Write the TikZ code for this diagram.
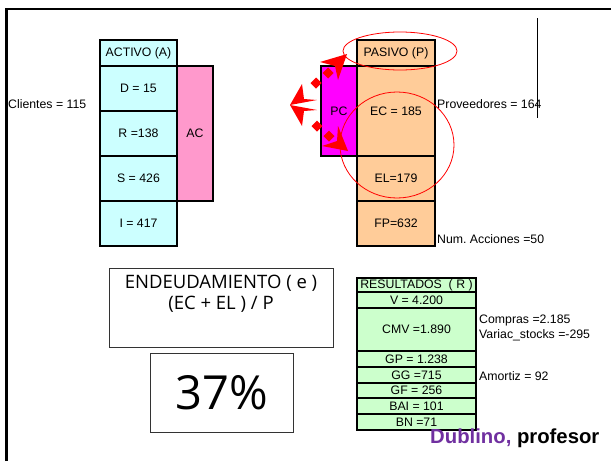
\documentclass[tikz,border=0pt]{standalone}
\usepackage{fontspec}
\setmainfont{Liberation Sans}
\newfontfamily\casual{Open Sans}
\usetikzlibrary{arrows.meta}
\definecolor{cyanbox}{HTML}{CCFFFF}
\definecolor{pinkbox}{HTML}{FF99CC}
\definecolor{orangebox}{HTML}{FFCC99}
\definecolor{magbox}{HTML}{FF00FF}
\definecolor{greenbox}{HTML}{CCFFCC}
\definecolor{purpletxt}{HTML}{7030A0}
\begin{document}
\begin{tikzpicture}[x=1pt,y=-1pt,
  cell/.style={draw=black, line width=1.2pt, inner sep=0pt, outer sep=0pt,
    font=\fontsize{12.3}{14}\selectfont, minimum width=#1},
  cell/.default=77pt,
  res/.style={draw=black, line width=1.2pt, inner sep=0pt, outer sep=0pt,
    font=\fontsize{12.3}{14}\selectfont, fill=greenbox, minimum width=119pt},
  lbl/.style={inner sep=0pt, anchor=west, font=\fontsize{12.3}{14}\selectfont},
  redmark/.style={fill=red, draw=none}
]
\useasboundingbox (0,0) rectangle (611,461);
% frame
\draw[line width=2.5pt] (6.5,461) -- (6.5,9) -- (611,9);

% ACTIVO
\node[cell, fill=cyanbox, minimum height=26pt] (act) at (138.5,53) {ACTIVO (A)};
\node[cell, fill=cyanbox, minimum height=45pt] (d) at (138.5,88.5) {D = 15};
\node[cell, fill=cyanbox, minimum height=45pt] (r) at (138.5,133.5) {R =138};
\node[cell, fill=cyanbox, minimum height=45pt] (s) at (138.5,178.5) {S = 426};
\node[cell, fill=cyanbox, minimum height=45pt] (i) at (138.5,223.5) {I = 417};
\node[cell=36pt, fill=pinkbox, minimum height=135pt] (ac) at (195,133.5) {AC};
\node[lbl] (cli) at (8,104) {Clientes = 115};

% PASIVO
\node[cell=78pt, fill=orangebox, minimum height=26pt] (pas) at (396,53) {PASIVO (P)};
\node[cell=36pt, fill=magbox, minimum height=90pt] (pc) at (339,111) {PC};
\node[cell=78pt, fill=orangebox, minimum height=90pt] (ec) at (396,111) {EC = 185};
\node[cell=78pt, fill=orangebox, minimum height=45pt] (el) at (396,178.5) {EL=179};
\node[cell=78pt, fill=orangebox, minimum height=45pt] (fp) at (396,223.5) {FP=632};
\node[lbl] (prov) at (437,104) {Proveedores = 164};
\node[lbl] (num) at (437,239) {Num.\ Acciones =50};
\coordinate (vtop) at (537,18);
\coordinate (vbot) at (537,118);
\draw[line width=1pt] (vtop) -- (vbot);

% red ellipses
\draw[red, line width=0.8pt] (400,51) ellipse [x radius=57, y radius=19];
\draw[red, line width=0.8pt] (397,145) ellipse [x radius=57, y radius=53];

% red arrow marks
\fill[redmark] (347,54) -- (320,62) -- (335,66) -- (338,80) -- cycle;
\fill[redmark] (348,151) -- (322,146) -- (337,141) -- (338,126) -- cycle;
\fill[redmark] (290,105) -- (302,84) -- (304,99) -- (317,100) -- cycle;
\fill[redmark] (290,105) -- (302,126) -- (304,111) -- (317,110) -- cycle;
\foreach \p in {(328,73),(316,83),(317,126),(329,136)}{
  \fill[redmark] \p ++(-5.5,0) -- ++(5.5,-5.5) -- ++(5.5,5.5) -- ++(-5.5,5.5) -- cycle;
}

% ENDEUDAMIENTO
\node[draw=black!80, line width=0.8pt, minimum width=224pt, minimum height=79pt,
  inner sep=0pt] (end) at (221,307.5) {};
\node[font=\casual\fontsize{18.5}{21}\selectfont, inner sep=0pt] (endt1) at (221,283) {ENDEUDAMIENTO ( e )};
\node[font=\casual\fontsize{18.5}{21}\selectfont, inner sep=0pt] (endt2) at (221,304) {(EC + EL ) / P};
\node[draw=black!80, line width=0.8pt, minimum width=143pt, minimum height=79pt,
  inner sep=0pt, font=\casual\fontsize{47}{52}\selectfont] (pct) at (221.5,392.5) {37\%};

% RESULTADOS
\node[res, minimum height=14pt] (rh) at (416.5,285) {RESULTADOS \ ( R )};
\node[res, minimum height=16pt] (rv) at (416.5,300) {V = 4.200};
\node[res, minimum height=43pt] (rcmv) at (416.5,329.5) {CMV =1.890};
\node[res, minimum height=16pt] (rgp) at (416.5,359) {GP = 1.238};
\node[res, minimum height=16pt] (rgg) at (416.5,375) {GG =715};
\node[res, minimum height=15pt] (rgf) at (416.5,390.5) {GF = 256};
\node[res, minimum height=16pt] (rbai) at (416.5,406) {BAI = 101};
\node[res, minimum height=16pt] (rbn) at (416.5,422) {BN =71};
\node[lbl] (comp) at (479,320) {Compras =2.185};
\node[lbl] (var) at (479,335) {Variac\_stocks =-295};
\node[lbl] (amo) at (479,376) {Amortiz = 92};

\node[inner sep=0pt, anchor=west, font=\bfseries\fontsize{20.3}{23}\selectfont] (dub) at (430,438)
  {\textcolor{purpletxt}{Dublino,} profesor};
\end{tikzpicture}
\end{document}
